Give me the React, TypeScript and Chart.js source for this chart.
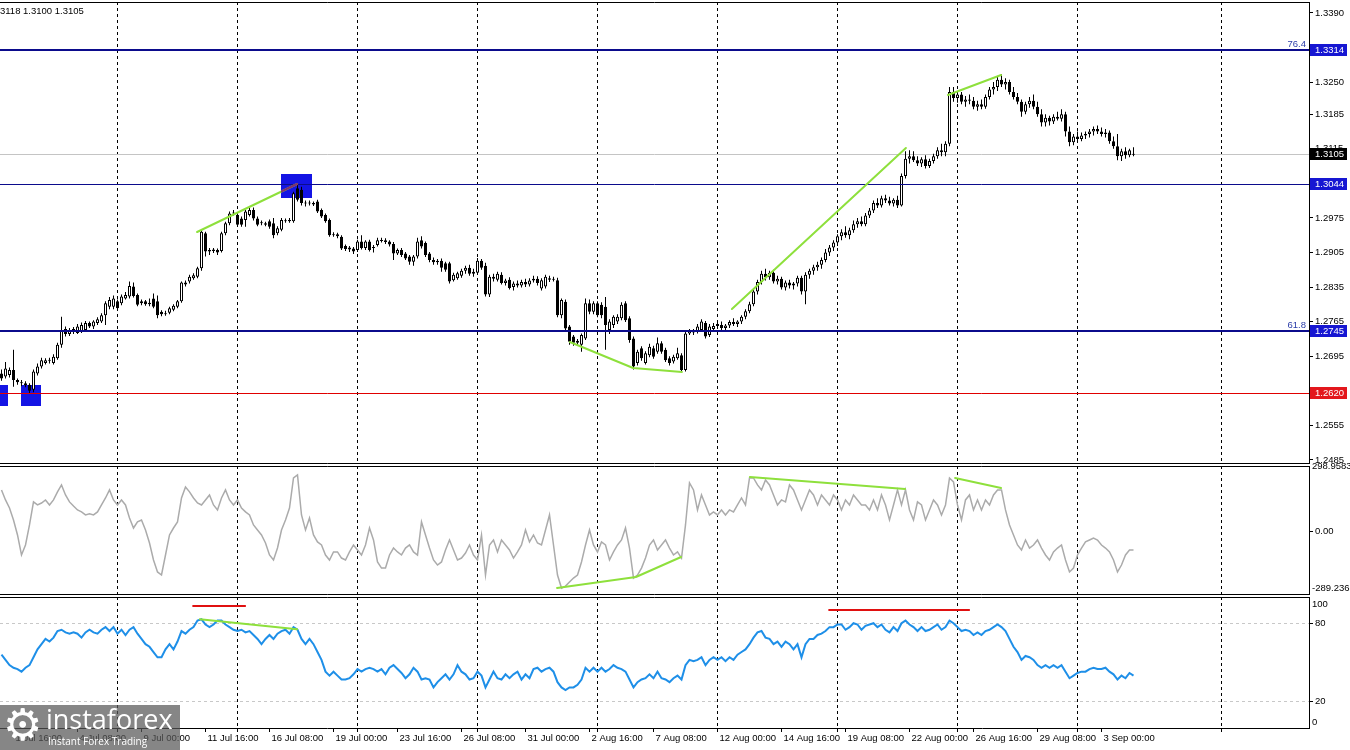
import React, { useEffect, useRef } from "react";
import { Chart, registerables } from "chart.js";

Chart.register(...registerables);

// ---------------- DATA ----------------
const opens = [
  1.2660,1.2654,1.2657,1.2667,1.2647,1.2642,1.2640,1.2637,1.2627,1.2660,
  1.2674,1.2681,1.2686,1.2681,1.2691,1.2718,1.2750,1.2740,1.2745,1.2742,
  1.2745,1.2748,1.2762,1.2755,1.2762,1.2765,1.2778,1.2795,1.2795,1.2806,
  1.2802,1.2812,1.2816,1.2836,1.2819,1.2802,1.2806,1.2800,1.2812,1.2806,
  1.2785,1.2780,1.2783,1.2789,1.2795,1.2806,1.2844,1.2846,1.2853,1.2856,
  1.2873,1.2944,1.2910,1.2908,1.2910,1.2908,1.2944,1.2964,1.2984,1.2981,
  1.2974,1.2971,1.2981,1.2991,1.2974,1.2964,1.2964,1.2968,1.2964,1.2944,
  1.2951,1.2970,1.2968,1.2968,1.3035,1.3032,1.3005,1.3004,1.3005,1.3008,
  1.2991,1.2981,1.2971,1.2942,1.2942,1.2937,1.2918,1.2915,1.2913,1.2910,
  1.2927,1.2914,1.2927,1.2914,1.2920,1.2928,1.2930,1.2927,1.2922,1.2903,
  1.2910,1.2903,1.2897,1.2886,1.2897,1.2930,1.2924,1.2903,1.2890,1.2885,
  1.2888,1.2883,1.2883,1.2849,1.2853,1.2858,1.2868,1.2874,1.2862,1.2864,
  1.2888,1.2878,1.2820,1.2856,1.2850,1.2860,1.2843,1.2850,1.2835,1.2842,
  1.2838,1.2845,1.2840,1.2848,1.2852,1.2832,1.2836,1.2853,1.2850,1.2849,
  1.2778,1.2805,1.2755,1.2735,1.2722,1.2718,1.2731,1.2802,1.2785,1.2802,
  1.2799,1.2795,1.2748,1.2758,1.2765,1.2772,1.2802,1.2772,1.2731,1.2681,
  1.2711,1.2681,1.2697,1.2711,1.2704,1.2721,1.2708,1.2691,1.2684,1.2691,
  1.2697,1.2667,1.2741,1.2746,1.2745,1.2748,1.2762,1.2738,1.2750,1.2756,
  1.2758,1.2752,1.2757,1.2764,1.2760,1.2765,1.2775,1.2786,1.2800,1.2826,
  1.2845,1.2862,1.2855,1.2864,1.2846,1.2852,1.2834,1.2844,1.2838,1.2842,
  1.2854,1.2826,1.2860,1.2868,1.2875,1.2880,1.2890,1.2905,1.2915,1.2925,
  1.2938,1.2946,1.2940,1.2950,1.2962,1.2968,1.2962,1.2980,1.2990,1.3005,
  1.3000,1.3015,1.3010,1.3004,1.3012,1.3000,1.3060,1.3095,1.3100,1.3092,
  1.3085,1.3094,1.3080,1.3090,1.3100,1.3112,1.3108,1.3125,1.3230,1.3218,
  1.3225,1.3210,1.3215,1.3212,1.3200,1.3205,1.3200,1.3220,1.3235,1.3240,
  1.3255,1.3245,1.3250,1.3230,1.3220,1.3210,1.3190,1.3205,1.3212,1.3200,
  1.3185,1.3168,1.3178,1.3170,1.3180,1.3176,1.3185,1.3150,1.3128,1.3140,
  1.3135,1.3142,1.3145,1.3150,1.3155,1.3150,1.3145,1.3148,1.3130,1.3120,
  1.3100,1.3110,1.3102,1.3103,
];
const highs = [
  1.2668,1.2683,1.2672,1.2708,1.2650,1.2647,1.2644,1.2640,1.2668,1.2680,
  1.2692,1.2691,1.2692,1.2699,1.2722,1.2775,1.2755,1.2752,1.2754,1.2760,
  1.2763,1.2766,1.2765,1.2768,1.2774,1.2782,1.2806,1.2815,1.2818,1.2810,
  1.2820,1.2825,1.2846,1.2844,1.2822,1.2810,1.2809,1.2812,1.2822,1.2818,
  1.2788,1.2787,1.2795,1.2800,1.2809,1.2846,1.2848,1.2860,1.2863,1.2876,
  1.2950,1.2947,1.2914,1.2914,1.2913,1.2947,1.2967,1.2988,1.2991,1.2986,
  1.2978,1.2991,1.2995,1.2996,1.2978,1.2970,1.2967,1.2972,1.2975,1.2958,
  1.2975,1.2974,1.2975,1.3028,1.3045,1.3038,1.3010,1.3010,1.3008,1.3012,
  1.2994,1.2984,1.2974,1.2946,1.2945,1.2940,1.2921,1.2918,1.2916,1.2931,
  1.2940,1.2930,1.2931,1.2920,1.2935,1.2935,1.2934,1.2930,1.2926,1.2913,
  1.2914,1.2906,1.2900,1.2900,1.2935,1.2938,1.2927,1.2906,1.2895,1.2892,
  1.2893,1.2886,1.2886,1.2864,1.2866,1.2872,1.2878,1.2880,1.2872,1.2894,
  1.2892,1.2884,1.2860,1.2862,1.2866,1.2865,1.2852,1.2855,1.2846,1.2848,
  1.2850,1.2852,1.2853,1.2858,1.2857,1.2853,1.2860,1.2858,1.2856,1.2854,
  1.2812,1.2810,1.2758,1.2738,1.2730,1.2741,1.2812,1.2810,1.2806,1.2806,
  1.2804,1.2815,1.2770,1.2778,1.2780,1.2804,1.2806,1.2776,1.2735,1.2708,
  1.2715,1.2705,1.2720,1.2716,1.2733,1.2725,1.2712,1.2695,1.2698,1.2712,
  1.2701,1.2745,1.2750,1.2750,1.2760,1.2770,1.2766,1.2760,1.2762,1.2766,
  1.2765,1.2760,1.2768,1.2772,1.2768,1.2778,1.2790,1.2805,1.2830,1.2850,
  1.2868,1.2872,1.2868,1.2870,1.2858,1.2856,1.2848,1.2850,1.2845,1.2858,
  1.2858,1.2865,1.2872,1.2880,1.2886,1.2895,1.2912,1.2920,1.2930,1.2942,
  1.2952,1.2958,1.2955,1.2970,1.2975,1.2978,1.2985,1.2995,1.3010,1.3015,
  1.3020,1.3022,1.3018,1.3015,1.3020,1.3065,1.3110,1.3112,1.3110,1.3100,
  1.3098,1.3102,1.3095,1.3105,1.3118,1.3125,1.3130,1.3240,1.3240,1.3232,
  1.3230,1.3222,1.3225,1.3220,1.3212,1.3215,1.3225,1.3240,1.3250,1.3262,
  1.3266,1.3258,1.3255,1.3240,1.3228,1.3215,1.3210,1.3220,1.3225,1.3210,
  1.3195,1.3185,1.3182,1.3185,1.3190,1.3195,1.3190,1.3160,1.3145,1.3150,
  1.3148,1.3150,1.3155,1.3160,1.3162,1.3158,1.3155,1.3152,1.3140,1.3145,
  1.3115,1.3118,1.3115,1.3118,
];
const lows = [
  1.2645,1.2650,1.2652,1.2633,1.2637,1.2634,1.2632,1.2620,1.2622,1.2656,
  1.2670,1.2678,1.2680,1.2678,1.2688,1.2712,1.2735,1.2736,1.2740,1.2740,
  1.2742,1.2745,1.2752,1.2750,1.2758,1.2762,1.2758,1.2790,1.2790,1.2788,
  1.2798,1.2810,1.2812,1.2814,1.2796,1.2798,1.2797,1.2796,1.2792,1.2772,
  1.2776,1.2777,1.2780,1.2786,1.2792,1.2803,1.2836,1.2842,1.2850,1.2853,
  1.2868,1.2897,1.2900,1.2904,1.2900,1.2905,1.2940,1.2960,1.2980,1.2958,
  1.2957,1.2957,1.2978,1.2970,1.2958,1.2960,1.2958,1.2953,1.2934,1.2940,
  1.2948,1.2965,1.2965,1.2965,1.3008,1.3000,1.2998,1.3000,1.2999,1.2985,
  1.2975,1.2965,1.2937,1.2937,1.2934,1.2910,1.2908,1.2906,1.2902,1.2906,
  1.2911,1.2910,1.2907,1.2905,1.2917,1.2925,1.2922,1.2917,1.2890,1.2900,
  1.2896,1.2890,1.2880,1.2878,1.2893,1.2913,1.2896,1.2885,1.2880,1.2880,
  1.2866,1.2866,1.2842,1.2846,1.2850,1.2854,1.2862,1.2858,1.2856,1.2860,
  1.2870,1.2816,1.2815,1.2846,1.2846,1.2840,1.2838,1.2830,1.2828,1.2834,
  1.2834,1.2835,1.2836,1.2844,1.2838,1.2828,1.2832,1.2845,1.2846,1.2774,
  1.2772,1.2748,1.2718,1.2716,1.2716,1.2704,1.2728,1.2780,1.2780,1.2774,
  1.2772,1.2708,1.2740,1.2752,1.2760,1.2768,1.2764,1.2722,1.2668,1.2676,
  1.2686,1.2678,1.2693,1.2690,1.2700,1.2700,1.2683,1.2676,1.2680,1.2688,
  1.2662,1.2664,1.2738,1.2738,1.2741,1.2744,1.2731,1.2734,1.2746,1.2752,
  1.2748,1.2745,1.2752,1.2756,1.2754,1.2760,1.2770,1.2782,1.2796,1.2820,
  1.2840,1.2848,1.2850,1.2842,1.2840,1.2830,1.2828,1.2832,1.2830,1.2836,
  1.2820,1.2800,1.2852,1.2860,1.2868,1.2872,1.2885,1.2898,1.2908,1.2918,
  1.2930,1.2935,1.2932,1.2945,1.2955,1.2958,1.2958,1.2975,1.2985,1.2995,
  1.2996,1.3005,1.3000,1.2998,1.2995,1.2998,1.3055,1.3085,1.3088,1.3080,
  1.3078,1.3075,1.3076,1.3085,1.3095,1.3100,1.3100,1.3120,1.3210,1.3208,
  1.3205,1.3200,1.3205,1.3195,1.3192,1.3195,1.3196,1.3215,1.3225,1.3232,
  1.3240,1.3235,1.3225,1.3215,1.3205,1.3180,1.3185,1.3198,1.3195,1.3180,
  1.3160,1.3160,1.3162,1.3165,1.3172,1.3170,1.3140,1.3120,1.3122,1.3128,
  1.3130,1.3135,1.3138,1.3142,1.3145,1.3140,1.3138,1.3125,1.3115,1.3092,
  1.3090,1.3095,1.3098,1.3100,
];
const closes = [
  1.2650,1.2670,1.2667,1.2647,1.2642,1.2640,1.2636,1.2625,1.2664,1.2674,
  1.2687,1.2687,1.2687,1.2694,1.2718,1.2748,1.2740,1.2748,1.2750,1.2755,
  1.2758,1.2762,1.2755,1.2765,1.2770,1.2778,1.2802,1.2809,1.2812,1.2792,
  1.2816,1.2819,1.2837,1.2817,1.2799,1.2806,1.2800,1.2803,1.2795,1.2778,
  1.2780,1.2782,1.2792,1.2797,1.2806,1.2844,1.2840,1.2856,1.2859,1.2873,
  1.2947,1.2907,1.2907,1.2911,1.2905,1.2944,1.2964,1.2984,1.2986,1.2961,
  1.2961,1.2988,1.2991,1.2974,1.2961,1.2966,1.2961,1.2957,1.2940,1.2954,
  1.2971,1.2968,1.2971,1.3025,1.3012,1.3005,1.3004,1.3006,1.3002,1.2988,
  1.2978,1.2968,1.2940,1.2940,1.2938,1.2913,1.2912,1.2911,1.2907,1.2927,
  1.2914,1.2927,1.2910,1.2916,1.2930,1.2930,1.2926,1.2921,1.2903,1.2910,
  1.2900,1.2893,1.2886,1.2897,1.2927,1.2917,1.2900,1.2890,1.2885,1.2888,
  1.2874,1.2870,1.2846,1.2860,1.2863,1.2868,1.2874,1.2862,1.2866,1.2888,
  1.2874,1.2820,1.2856,1.2852,1.2862,1.2843,1.2848,1.2833,1.2842,1.2838,
  1.2845,1.2840,1.2848,1.2852,1.2843,1.2849,1.2856,1.2850,1.2852,1.2778,
  1.2809,1.2751,1.2724,1.2722,1.2726,1.2738,1.2802,1.2785,1.2802,1.2778,
  1.2778,1.2758,1.2765,1.2775,1.2775,1.2799,1.2768,1.2728,1.2674,1.2704,
  1.2691,1.2701,1.2714,1.2694,1.2721,1.2704,1.2687,1.2681,1.2694,1.2701,
  1.2667,1.2741,1.2746,1.2743,1.2755,1.2765,1.2735,1.2755,1.2756,1.2760,
  1.2752,1.2757,1.2764,1.2760,1.2765,1.2775,1.2786,1.2800,1.2826,1.2845,
  1.2862,1.2855,1.2864,1.2846,1.2852,1.2834,1.2844,1.2838,1.2842,1.2854,
  1.2826,1.2860,1.2868,1.2875,1.2880,1.2890,1.2905,1.2915,1.2925,1.2938,
  1.2946,1.2940,1.2950,1.2962,1.2968,1.2962,1.2980,1.2990,1.3005,1.3000,
  1.3015,1.3010,1.3004,1.3012,1.3000,1.3060,1.3095,1.3100,1.3092,1.3085,
  1.3094,1.3080,1.3090,1.3100,1.3112,1.3108,1.3125,1.3230,1.3218,1.3225,
  1.3210,1.3215,1.3212,1.3200,1.3205,1.3200,1.3220,1.3235,1.3240,1.3255,
  1.3245,1.3250,1.3230,1.3220,1.3210,1.3190,1.3205,1.3212,1.3200,1.3185,
  1.3168,1.3178,1.3170,1.3180,1.3176,1.3185,1.3150,1.3128,1.3140,1.3135,
  1.3142,1.3145,1.3150,1.3155,1.3150,1.3145,1.3148,1.3130,1.3120,1.3100,
  1.3110,1.3102,1.3112,1.3105,
];
const cciValues = [
  189,143,106,51,-18,-110,-64,28,134,120,
  129,143,120,143,180,212,166,134,115,97,
  88,74,79,74,88,120,152,189,143,120,
  143,120,60,14,42,51,5,-55,-133,-188,
  -202,-110,-18,14,42,152,202,180,152,129,
  120,143,166,120,97,152,189,143,120,143,
  106,88,74,28,5,-18,-55,-110,-133,-78,
  5,51,106,244,258,74,5,60,-18,-50,
  -64,-110,-133,-96,-96,-124,-133,-96,-64,-87,
  -110,-64,14,-41,-142,-170,-170,-110,-78,-96,
  -110,-78,-64,-96,-110,42,-18,-78,-133,-156,
  -142,-87,-41,-87,-133,-124,-101,-64,-110,-133,
  -18,-202,-64,-41,-96,-41,-64,-87,-124,-96,
  -64,5,-50,-18,-55,-64,5,74,-64,-202,
  -262,-253,-234,-216,-202,-142,-64,5,-64,-96,
  -50,-64,-133,-96,-64,-41,14,-78,-216,-202,
  -170,-124,-64,-41,-87,-64,-41,-78,-110,-96,
  -124,28,221,189,97,166,120,74,88,74,
  97,74,97,88,120,152,120,244,244,212,
  189,235,212,166,120,143,134,212,189,143,
  97,143,189,166,120,166,143,120,166,143,
  97,143,120,166,143,120,120,97,143,97,
  166,120,51,120,189,120,189,97,51,134,
  120,51,97,143,120,74,120,244,226,120,
  51,143,166,97,143,97,143,120,166,189,
  189,97,28,-18,-64,-87,-41,-78,-64,-41,
  -78,-110,-133,-96,-78,-64,-133,-188,-170,-110,
  -78,-50,-41,-32,-41,-64,-78,-96,-133,-188,
  -156,-110,-87,-87,
];
const rsiValues = [
  56,52,48,46,45,43,46,48,54,60,
  64,68,66,69,74,75,73,72,73,72,
  69,73,75,73,72,75,77,74,77,72,
  75,71,75,77,72,68,64,62,58,54,
  54,60,64,60,66,74,72,75,77,82,
  83,79,77,79,82,82,79,77,75,74,
  75,73,74,71,68,64,68,71,68,72,
  74,75,72,77,75,68,64,68,64,58,
  52,43,40,43,40,37,37,38,41,45,
  43,45,46,45,43,45,41,46,48,45,
  42,38,41,46,43,37,38,37,31,35,
  38,41,37,41,48,43,41,37,38,43,
  40,31,37,43,38,37,41,38,41,43,
  37,41,38,45,46,43,45,46,43,35,
  31,29,31,31,33,37,46,43,46,43,
  46,43,45,48,46,45,43,37,31,35,
  37,38,41,38,43,38,37,35,38,40,
  37,48,52,51,52,54,48,52,54,52,
  54,51,54,52,56,58,60,64,69,73,
  74,69,68,64,66,62,66,64,60,64,
  54,64,68,68,71,72,74,77,77,79,
  79,75,77,80,79,75,78,79,80,77,
  79,75,73,77,74,80,82,79,77,74,
  77,74,75,77,79,75,77,82,80,77,
  74,75,74,71,73,71,74,75,77,79,
  77,74,68,62,58,52,55,54,52,48,
  46,48,46,48,46,48,43,38,40,42,
  43,43,45,46,45,45,46,43,41,37,
  40,38,42,40,
];

const timeLabels = [
  "1 Jul 16:00", "4 Jul 08:00", "9 Jul 00:00", "11 Jul 16:00", "16 Jul 08:00", "19 Jul 00:00",
  "23 Jul 16:00", "26 Jul 08:00", "31 Jul 00:00", "2 Aug 16:00", "7 Aug 08:00", "12 Aug 00:00",
  "14 Aug 16:00", "19 Aug 08:00", "22 Aug 00:00", "26 Aug 16:00", "29 Aug 08:00", "3 Sep 00:00",
];
const timeLabelBars = [3, 19, 35, 51, 67, 83, 99, 115, 131, 147, 163, 179, 195, 211, 227, 243, 259, 275];
const gridBars = [29, 59, 89, 119, 149, 179, 209, 239, 269, 305];

const priceTickValues = [1.339, 1.332, 1.325, 1.3185, 1.3115, 1.3045, 1.2975, 1.2905, 1.2835, 1.2765, 1.2695, 1.2625, 1.2555, 1.2485];
const priceAxisRange = [1.24787, 1.34122];
const levelPrices = [1.3314, 1.3044, 1.2745, 1.262];
const fibTags = ["76.4", "", "61.8", ""];
const currentPrice = 1.3105;
const headerText = "3118 1.3100 1.3105";

const cciRange = [-289.236, 298.9583];
const cciTickValues = [0];
const rsiRange = [0, 100];
const rsiTickValues = [80, 20];

// chart annotations, in (bar index, value)
const priceTrendLines = [
  [[48.9, 1.29465], [73.9, 1.30437]],
  [[142.1, 1.27237], [157.9, 1.26711], [170.1, 1.2663]],
  [[182.6, 1.27906], [226.1, 1.31166]],
  [[236.6, 1.32239], [249.9, 1.32644]],
];
const signalBoxes = [
  [69.9, 77.6, 1.30154, 1.3064],
  [-0.4, 1.6, 1.25942, 1.26367],
  [4.9, 9.9, 1.25942, 1.26367],
];
const cciTrendLines = [
  [[138.9, -261.6], [158.6, -211.1], [169.9, -119.2]],
  [[187.1, 248.4], [225.9, 193.3]],
  [[238.4, 243.8], [249.9, 197.9]],
];
const rsiTrendLines = [[[49.6, 83.1], [73.9, 75.4]]];
const rsiRedLines = [
  [[47.9, 93.1], [60.9, 93.1]],
  [[206.9, 90.0], [241.9, 90.0]],
];

// ---------------- STYLE / HELPERS ----------------
const FONT = "'Liberation Sans', Arial, sans-serif";
const FS = 9.5;
const X_MIN = -0.375;
const X_MAX = 326.875;
const AXIS_W = 41;
const GREEN = "#8EE03C";

function xScale(withLabels: boolean) {
  const all = withLabels
    ? Array.from(new Set([...timeLabelBars, ...gridBars])).sort((a, b) => a - b)
    : gridBars;
  return {
    type: "linear",
    min: X_MIN,
    max: X_MAX,
    offset: false,
    afterBuildTicks: (s: any) => {
      s.ticks = all.map((v) => ({ value: v }));
    },
    afterFit: (s: any) => {
      s.height = withLabels ? 22 : 0;
      s.paddingLeft = 0;
      s.paddingRight = 0;
    },
    ticks: withLabels
      ? {
          display: true,
          autoSkip: false,
          maxRotation: 0,
          minRotation: 0,
          align: "start",
          labelOffset: 2,
          padding: 1,
          color: "#000",
          font: { family: FONT, size: FS },
          callback: (v: number) => {
            const k = timeLabelBars.indexOf(v);
            return k >= 0 ? timeLabels[k] : "";
          },
        }
      : { display: false },
    grid: {
      display: true,
      offset: false,
      drawOnChartArea: true,
      drawTicks: withLabels,
      tickLength: 4,
      tickColor: "#000",
      lineWidth: 1,
      color: (c: any) => (c.tick && gridBars.includes(c.tick.value) ? "#000" : "rgba(0,0,0,0)"),
    },
    border: { display: withLabels, color: "#000", width: 1, dash: [3, 3] },
  };
}

function yScale(range: number[], values: number[], fmt: (v: number) => string, gridColor?: (c: any) => string) {
  return {
    type: "linear",
    position: "right",
    min: range[0],
    max: range[1],
    afterBuildTicks: (s: any) => {
      s.ticks = values.map((v) => ({ value: v }));
    },
    afterFit: (s: any) => {
      s.width = AXIS_W;
      s.paddingTop = 0;
      s.paddingBottom = 0;
    },
    ticks: { autoSkip: false, padding: 2, color: "#000", font: { family: FONT, size: FS }, callback: (v: number) => fmt(Number(v)) },
    grid: {
      offset: false,
      drawOnChartArea: !!gridColor,
      color: gridColor || "rgba(0,0,0,0)",
      drawTicks: true,
      tickLength: 4,
      tickColor: "#000",
    },
    border: { display: true, color: "#000", width: 1, dash: gridColor ? [3, 3] : [] },
  };
}

function strokePath(chart: any, pts: number[][], color: string, width: number) {
  const { ctx, scales } = chart;
  ctx.save();
  ctx.strokeStyle = color;
  ctx.lineWidth = width;
  ctx.lineCap = "round";
  ctx.lineJoin = "round";
  ctx.beginPath();
  pts.forEach((p, k) => {
    const px = scales.x.getPixelForValue(p[0]);
    const py = scales.y.getPixelForValue(p[1]);
    if (k === 0) ctx.moveTo(px, py);
    else ctx.lineTo(px, py);
  });
  ctx.stroke();
  ctx.restore();
}

function clipArea(ctx: any, a: any) {
  ctx.beginPath();
  ctx.rect(a.left, a.top, a.right - a.left, a.bottom - a.top);
  ctx.clip();
}

function frameLines(chart: any, top: boolean, bottom: boolean) {
  const { ctx, chartArea: a } = chart;
  ctx.save();
  ctx.strokeStyle = "#000";
  ctx.lineWidth = 1;
  ctx.beginPath();
  if (top) {
    ctx.moveTo(0, a.top + 0.5);
    ctx.lineTo(a.right, a.top + 0.5);
  }
  if (bottom) {
    ctx.moveTo(0, a.bottom + 0.5);
    ctx.lineTo(a.right, a.bottom + 0.5);
  }
  ctx.stroke();
  ctx.restore();
}

const baseOptions = {
  animation: false,
  responsive: false,
  maintainAspectRatio: false,
  events: [],
  plugins: { legend: { display: false }, tooltip: { enabled: false } },
};

function priceConfig() {
  const levelStyle = [
    { c: "#0B0B8C", w: 2 },
    { c: "#0B0B8C", w: 1 },
    { c: "#0B0B8C", w: 2 },
    { c: "#E00000", w: 1 },
  ];
  const plugin = {
    id: "pricePane",
    beforeDatasetsDraw(chart: any) {
      const { ctx, chartArea: a, scales } = chart;
      ctx.save();
      clipArea(ctx, a);
      const cy = Math.round(scales.y.getPixelForValue(currentPrice)) + 0.5;
      ctx.strokeStyle = "#C4C4C4";
      ctx.lineWidth = 1;
      ctx.beginPath();
      ctx.moveTo(a.left, cy);
      ctx.lineTo(a.right, cy);
      ctx.stroke();
      ctx.fillStyle = "#1414E4";
      signalBoxes.forEach((b) => {
        const x0 = scales.x.getPixelForValue(b[0]);
        const x1 = scales.x.getPixelForValue(b[1]);
        const y0 = scales.y.getPixelForValue(b[3]);
        const y1 = scales.y.getPixelForValue(b[2]);
        ctx.fillRect(Math.round(x0), Math.round(y0), Math.round(x1 - x0), Math.round(y1 - y0));
      });
      ctx.restore();
    },
    afterDatasetsDraw(chart: any) {
      const { ctx, chartArea: a, scales } = chart;
      ctx.save();
      clipArea(ctx, a);
      levelPrices.forEach((p, k) => {
        const st = levelStyle[k];
        const py = Math.round(scales.y.getPixelForValue(p)) + (st.w % 2 ? 0.5 : 0);
        ctx.strokeStyle = st.c;
        ctx.lineWidth = st.w;
        ctx.beginPath();
        ctx.moveTo(a.left, py);
        ctx.lineTo(a.right, py);
        ctx.stroke();
      });
      priceTrendLines.forEach((l) => strokePath(chart, l, GREEN, 2));
      signalBoxes.slice(0, 1).forEach((b) => {
        ctx.save();
        const x0 = scales.x.getPixelForValue(b[0]);
        const x1 = scales.x.getPixelForValue(b[1]);
        const y0 = scales.y.getPixelForValue(b[3]);
        const y1 = scales.y.getPixelForValue(b[2]);
        ctx.beginPath();
        ctx.rect(x0, y0, x1 - x0, y1 - y0);
        ctx.clip();
        priceTrendLines.forEach((l) => strokePath(chart, l, "#7E2E70", 2));
        ctx.restore();
      });
      ctx.font = `${FS}px ${FONT}`;
      ctx.textAlign = "right";
      ctx.textBaseline = "bottom";
      ctx.fillStyle = "#2A3CA8";
      levelPrices.forEach((p, k) => {
        if (!fibTags[k]) return;
        const py = scales.y.getPixelForValue(p);
        ctx.fillText(fibTags[k], a.right - 3, py - 1);
      });
      ctx.restore();
    },
    afterDraw(chart: any) {
      const { ctx, chartArea: a, scales } = chart;
      frameLines(chart, true, true);
      const tags: [number, string][] = [
        [levelPrices[0], "#1616D2"],
        [currentPrice, "#000000"],
        [levelPrices[1], "#1616D2"],
        [levelPrices[2], "#1616D2"],
        [levelPrices[3], "#E3171C"],
      ];
      ctx.save();
      ctx.font = `${FS}px ${FONT}`;
      ctx.textAlign = "left";
      ctx.textBaseline = "middle";
      tags.forEach(([v, bg]) => {
        const py = Math.round(scales.y.getPixelForValue(v));
        ctx.fillStyle = bg;
        ctx.fillRect(a.right + 1, py - 6, 37, 12);
        ctx.fillStyle = "#fff";
        ctx.fillText(v.toFixed(4), a.right + 6, py + 0.5);
      });
      ctx.restore();
    },
  };
  return {
    type: "bar",
    data: {
      datasets: [
        {
          type: "bar",
          data: opens.map((_, i) => ({ x: i, y: [lows[i], highs[i]] })),
          backgroundColor: "#000",
          borderWidth: 0,
          barThickness: 1,
          grouped: false,
          inflateAmount: 0,
          order: 2,
        },
        {
          type: "bar",
          data: opens.map((o, i) => ({ x: i, y: [Math.min(o, closes[i]), Math.max(o, closes[i])] })),
          backgroundColor: (c: any) => (closes[c.dataIndex] >= opens[c.dataIndex] ? "#ffffff" : "#000000"),
          borderColor: "#000",
          borderWidth: 1,
          borderSkipped: false,
          barThickness: 3,
          minBarLength: 1,
          grouped: false,
          inflateAmount: 0,
          order: 1,
        },
      ],
    },
    options: {
      ...baseOptions,
      layout: { padding: { top: 2, bottom: 2, left: 0, right: 0 } },
      scales: {
        x: xScale(false),
        y: yScale(priceAxisRange, priceTickValues, (v) => v.toFixed(4)),
      },
    },
    plugins: [plugin],
  };
}

function cciConfig() {
  const plugin = {
    id: "cciPane",
    afterDatasetsDraw(chart: any) {
      const { ctx, chartArea: a } = chart;
      ctx.save();
      clipArea(ctx, a);
      cciTrendLines.forEach((l) => strokePath(chart, l, GREEN, 2));
      ctx.restore();
    },
    afterDraw(chart: any) {
      const { ctx, chartArea: a } = chart;
      frameLines(chart, true, true);
      ctx.save();
      ctx.font = `${FS}px ${FONT}`;
      ctx.fillStyle = "#000";
      ctx.textAlign = "left";
      ctx.textBaseline = "middle";
      ctx.fillText(String(cciRange[1]), a.right + 3, a.top + 0.5);
      ctx.fillText(String(cciRange[0]), a.right + 3, a.bottom - 6);
      ctx.restore();
    },
  };
  return {
    type: "line",
    data: {
      datasets: [
        {
          data: cciValues.map((v, i) => ({ x: i, y: v })),
          borderColor: "#ABABAB",
          borderWidth: 1.5,
          pointRadius: 0,
          tension: 0,
        },
      ],
    },
    options: {
      ...baseOptions,
      layout: { padding: { top: 11, bottom: 1, left: 0, right: 0 } },
      scales: {
        x: xScale(false),
        y: yScale(cciRange, cciTickValues, (v) => v.toFixed(2)),
      },
    },
    plugins: [plugin],
  };
}

function rsiConfig() {
  const plugin = {
    id: "rsiPane",
    afterDatasetsDraw(chart: any) {
      const { ctx, chartArea: a } = chart;
      ctx.save();
      clipArea(ctx, a);
      rsiRedLines.forEach((l) => strokePath(chart, l, "#E01010", 2));
      rsiTrendLines.forEach((l) => strokePath(chart, l, GREEN, 2));
      ctx.restore();
    },
    afterDraw(chart: any) {
      const { ctx, chartArea: a } = chart;
      frameLines(chart, true, false);
      ctx.save();
      ctx.font = `${FS}px ${FONT}`;
      ctx.fillStyle = "#000";
      ctx.textAlign = "left";
      ctx.textBaseline = "middle";
      ctx.fillText(String(rsiRange[1]), a.right + 3, a.top + 7);
      ctx.fillText(String(rsiRange[0]), a.right + 3, a.bottom - 6);
      ctx.restore();
    },
  };
  return {
    type: "line",
    data: {
      datasets: [
        {
          data: rsiValues.map((v, i) => ({ x: i, y: v })),
          borderColor: "#1E8FE8",
          borderWidth: 2,
          pointRadius: 0,
          tension: 0,
        },
      ],
    },
    options: {
      ...baseOptions,
      layout: { padding: { top: 2, bottom: 0, left: 0, right: 0 } },
      scales: {
        x: xScale(true),
        y: yScale(rsiRange, rsiTickValues, (v) => String(v), (c: any) =>
          c.tick && rsiTickValues.includes(c.tick.value) ? "#C8C8C8" : "rgba(0,0,0,0)"
        ),
      },
    },
    plugins: [plugin],
  };
}

export default function App() {
  const priceRef = useRef<HTMLCanvasElement>(null);
  const cciRef = useRef<HTMLCanvasElement>(null);
  const rsiRef = useRef<HTMLCanvasElement>(null);

  useEffect(() => {
    const charts: Chart[] = [];
    if (priceRef.current) charts.push(new Chart(priceRef.current, priceConfig() as any));
    if (cciRef.current) charts.push(new Chart(cciRef.current, cciConfig() as any));
    if (rsiRef.current) charts.push(new Chart(rsiRef.current, rsiConfig() as any));
    return () => charts.forEach((c) => c.destroy());
  }, []);

  return (
    <div
      style={{
        position: "fixed",
        left: 0,
        top: 0,
        width: 1350,
        height: 750,
        background: "#ffffff",
        overflow: "hidden",
      }}
    >
      <canvas ref={priceRef} width={1350} height={465} style={{ position: "absolute", left: 0, top: 0 }} />
      <canvas ref={cciRef} width={1350} height={140} style={{ position: "absolute", left: 0, top: 455 }} />
      <canvas ref={rsiRef} width={1350} height={155} style={{ position: "absolute", left: 0, top: 595 }} />
      <div
        style={{
          position: "absolute",
          left: 0,
          top: 5,
          fontFamily: FONT,
          fontSize: FS,
          lineHeight: "12px",
          color: "#000",
          whiteSpace: "nowrap",
        }}
      >
        {headerText}
      </div>
      <div
        style={{
          position: "absolute",
          left: 0,
          top: 705,
          width: 180,
          height: 45,
          background: "rgba(88,88,88,0.72)",
          color: "#fff",
          overflow: "hidden",
        }}
      >
        <div style={{ position: "absolute", left: 3, top: -7, fontFamily: "'DejaVu Sans', sans-serif", fontSize: 44, lineHeight: "54px" }}>⚙</div>
        <div style={{ position: "absolute", left: 46, top: -3, fontFamily: "'Open Sans', sans-serif", fontSize: 27, lineHeight: "34px" }}>instaforex</div>
        <div style={{ position: "absolute", left: 48, top: 30, fontFamily: "'Open Sans', sans-serif", fontSize: 10, lineHeight: "12px" }}>Instant Forex Trading</div>
      </div>
    </div>
  );
}
